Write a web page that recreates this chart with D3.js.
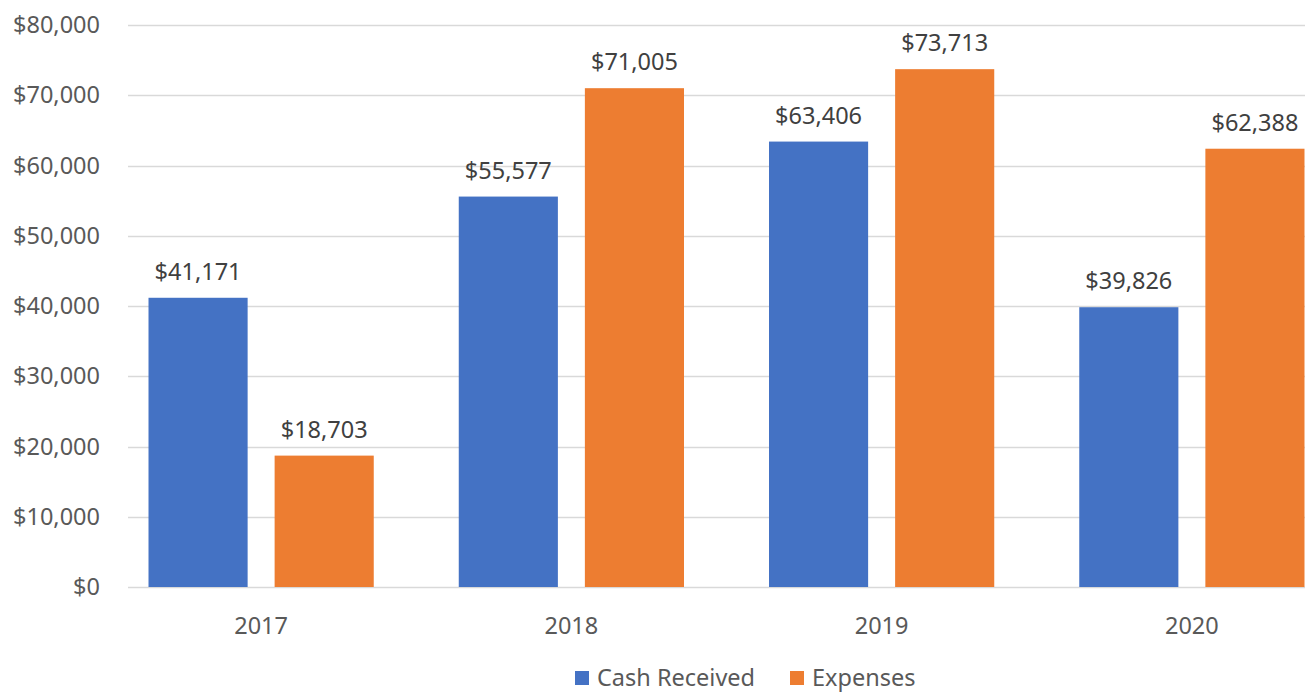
<!DOCTYPE html>
<html><head><meta charset="utf-8">
<script src="https://cdn.jsdelivr.net/npm/d3@7"></script>
<style>body{margin:0;background:#fff;} svg{display:block;} text{font-family:"Noto Sans","Open Sans",sans-serif;}</style>
</head><body>
<svg id="c" width="1309" height="692"></svg>
<script>
const categories = ["2017","2018","2019","2020"];
const seriesNames = ["Cash Received","Expenses"];
const cashReceived = [41171,55577,63406,39826];
const expenses = [18703,71005,73713,62388];
const yTicks = [0,10000,20000,30000,40000,50000,60000,70000,80000];
const colors = ["#4472C4","#ED7D31"];

const svg = d3.select("#c");
const fmt = d => "$" + d3.format(",")(d);
const y = d3.scaleLinear().domain([0,80000]).range([587,25]);
const x0 = d3.scaleBand().domain(categories).range([106,1347]).paddingInner(0.274).paddingOuter(0.137);
const x1 = d3.scaleBand().domain(seriesNames).range([0,x0.bandwidth()]).paddingInner(0.214).paddingOuter(0);
const gridX0 = 128, gridX1 = 1305;
const fs = 23.5;

svg.append("g").selectAll("line").data(yTicks).join("line")
  .attr("x1",gridX0).attr("x2",gridX1)
  .attr("y1",d=>Math.round(y(d))+0.5).attr("y2",d=>Math.round(y(d))+0.5)
  .attr("stroke","#d9d9d9").attr("stroke-width",1.5);

svg.append("g").selectAll("text").data(yTicks).join("text")
  .attr("x",100).attr("y",d=>y(d)).attr("dy","0.35em")
  .attr("text-anchor","end").attr("fill","#595959").attr("font-size",fs)
  .text(fmt);

const rows = categories.map((c,i)=>({cat:c, vals:[cashReceived[i],expenses[i]]}));
const g = svg.append("g").selectAll("g").data(rows).join("g")
  .attr("transform",d=>`translate(${x0(d.cat)},0)`);
g.selectAll("rect").data(d=>d.vals.map((v,j)=>({s:seriesNames[j],v,j}))).join("rect")
  .attr("x",d=>x1(d.s)).attr("width",x1.bandwidth())
  .attr("y",d=>y(d.v)).attr("height",d=>y(0)-y(d.v))
  .attr("fill",d=>colors[d.j]);
g.selectAll("text").data(d=>d.vals.map((v,j)=>({s:seriesNames[j],v,j}))).join("text")
  .attr("x",d=>x1(d.s)+x1.bandwidth()/2).attr("y",d=>y(d.v)-18)
  .attr("text-anchor","middle").attr("fill","#404040").attr("font-size",fs)
  .text(d=>fmt(d.v));

svg.append("g").selectAll("text").data(categories).join("text")
  .attr("x",d=>x0(d)+x0.bandwidth()/2).attr("y",626).attr("dy","0.35em")
  .attr("text-anchor","middle").attr("fill","#595959").attr("font-size",fs)
  .text(d=>d);

const leg = svg.append("g");
const legItems = [{n:seriesNames[0],x:575},{n:seriesNames[1],x:790}];
legItems.forEach((it,i)=>{
  leg.append("rect").attr("x",it.x).attr("y",671).attr("width",14).attr("height",14).attr("fill",colors[i]);
  leg.append("text").attr("x",it.x+22).attr("y",678).attr("dy","0.35em").attr("fill","#595959").attr("font-size",fs).text(it.n);
});
</script>
</body></html>
